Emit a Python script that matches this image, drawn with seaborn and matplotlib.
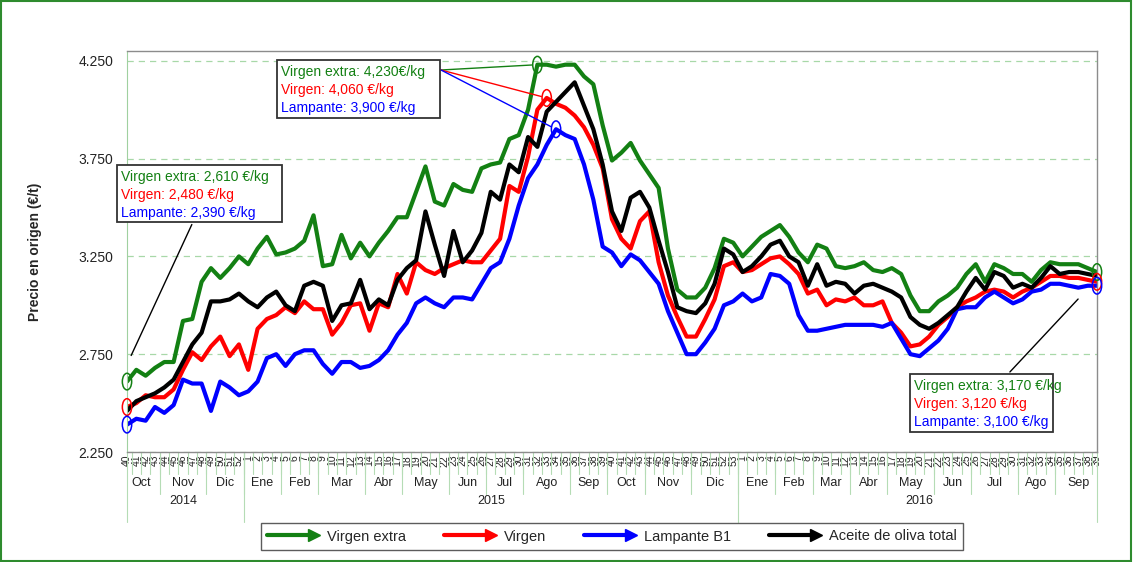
import numpy as np
import pandas as pd
import matplotlib
matplotlib.use("Agg")
import matplotlib.pyplot as plt
import matplotlib.transforms as mtransforms
import seaborn as sns
from matplotlib.patches import Ellipse, Rectangle
from matplotlib.lines import Line2D
from matplotlib.legend_handler import HandlerLine2D

# --- DATOS ---
semanas = list(range(40, 53)) + list(range(1, 54)) + list(range(1, 40))
meses = ["Oct", "Nov", "Dic",
         "Ene", "Feb", "Mar", "Abr", "May", "Jun", "Jul", "Ago", "Sep", "Oct", "Nov", "Dic",
         "Ene", "Feb", "Mar", "Abr", "May", "Jun", "Jul", "Ago", "Sep"]
semanas_por_mes = [4, 5, 4,
                   4, 4, 5, 4, 5, 4, 4, 5, 4, 4, 5, 5,
                   4, 4, 4, 4, 5, 4, 5, 4, 5]
anios = ["2014", "2015", "2016"]
semanas_por_anio = [13, 53, 39]

virgen_extra = [2610, 2670, 2640, 2680, 2710, 2710, 2920, 2930, 3120, 3190,
                3140, 3190, 3250, 3210, 3290, 3350, 3260, 3270, 3290, 3330,
                3460, 3200, 3210, 3360, 3240, 3320, 3250, 3320, 3380, 3450,
                3450, 3580, 3710, 3530, 3510, 3620, 3590, 3580, 3700, 3720,
                3730, 3850, 3870, 4000, 4230, 4230, 4220, 4230, 4230, 4170,
                4130, 3920, 3740, 3780, 3830, 3740, 3670, 3600, 3290, 3080,
                3040, 3040, 3090, 3190, 3340, 3320, 3250, 3300, 3350, 3380,
                3410, 3350, 3270, 3220, 3310, 3290, 3200, 3190, 3200, 3220,
                3180, 3170, 3190, 3160, 3050, 2970, 2970, 3020, 3050, 3090,
                3160, 3210, 3120, 3210, 3190, 3160, 3160, 3120, 3180, 3220,
                3210, 3210, 3210, 3190, 3170]
virgen = [2480, 2500, 2540, 2530, 2530, 2570, 2670, 2760, 2720, 2790,
          2840, 2740, 2800, 2670, 2880, 2930, 2950, 2990, 2960, 3020,
          2980, 2980, 2850, 2910, 3000, 3010, 2870, 3010, 2990, 3160,
          3060, 3220, 3180, 3160, 3190, 3210, 3230, 3220, 3220, 3280,
          3340, 3610, 3580, 3760, 4000, 4060, 4030, 4010, 3970, 3910,
          3820, 3700, 3440, 3340, 3290, 3430, 3480, 3220, 3050, 2940,
          2840, 2840, 2930, 3030, 3200, 3220, 3170, 3180, 3210, 3240,
          3250, 3210, 3160, 3060, 3080, 3000, 3030, 3020, 3040, 3000,
          3000, 3020, 2910, 2860, 2790, 2800, 2840, 2900, 2940, 2990,
          3020, 3040, 3070, 3080, 3070, 3040, 3070, 3090, 3120, 3150,
          3150, 3140, 3140, 3130, 3120]
lampante = [2390, 2420, 2410, 2480, 2450, 2490, 2620, 2600, 2600, 2460,
            2610, 2580, 2540, 2560, 2610, 2730, 2750, 2690, 2750, 2770,
            2770, 2700, 2650, 2710, 2710, 2680, 2690, 2720, 2770, 2850,
            2910, 3010, 3040, 3010, 2990, 3040, 3040, 3030, 3110, 3190,
            3220, 3340, 3510, 3650, 3720, 3820, 3900, 3870, 3850, 3720,
            3540, 3300, 3270, 3200, 3260, 3230, 3170, 3110, 2970, 2860,
            2750, 2750, 2810, 2880, 3000, 3020, 3060, 3020, 3040, 3160,
            3150, 3110, 2950, 2870, 2870, 2880, 2890, 2900, 2900, 2900,
            2900, 2890, 2910, 2830, 2750, 2740, 2780, 2820, 2880, 2980,
            2990, 2990, 3040, 3070, 3040, 3010, 3030, 3070, 3080, 3110,
            3110, 3100, 3090, 3100, 3100]
aceite_total = [2460, 2510, 2530, 2550, 2580, 2620, 2710, 2800, 2860, 3020,
                3020, 3030, 3060, 3020, 2990, 3040, 3070, 3000, 2970, 3100,
                3120, 3100, 2920, 3000, 3010, 3130, 2980, 3030, 3000, 3130,
                3190, 3230, 3480, 3310, 3150, 3380, 3220, 3280, 3370, 3580,
                3540, 3720, 3680, 3860, 3810, 3990, 4040, 4090, 4140, 4020,
                3900, 3720, 3480, 3380, 3550, 3580, 3500, 3330, 3170, 2990,
                2970, 2960, 3010, 3110, 3290, 3260, 3170, 3200, 3250, 3310,
                3330, 3250, 3220, 3100, 3210, 3100, 3120, 3110, 3060, 3100,
                3110, 3090, 3070, 3040, 2940, 2900, 2880, 2910, 2950, 2990,
                3070, 3140, 3080, 3170, 3150, 3090, 3110, 3090, 3140, 3200,
                3160, 3170, 3170, 3160, 3150]

series = ["Virgen extra", "Virgen", "Lampante B1", "Aceite de oliva total"]
colores = ["#138013", "#ff0000", "#0000ff", "#000000"]
nombres_cortos = ["Virgen extra", "Virgen", "Lampante"]
idx_pico = [44, 45, 46]

W, H = 1133, 562
n = len(semanas)

sns.set_style("white")
plt.rcParams['font.family'] = ['Liberation Sans', 'DejaVu Sans']

df = pd.DataFrame({
    "semana": np.tile(np.arange(n), 4),
    "precio": virgen_extra + virgen + lampante + aceite_total,
    "serie": np.repeat(series, n),
})

fig = plt.figure(figsize=(W / 100, H / 100), dpi=100)
ax = fig.add_axes([127 / W, 1 - 452 / H, 970 / W, 401 / H])

sns.lineplot(data=df, x="semana", y="precio", hue="serie", hue_order=series,
             palette=colores, linewidth=3, legend=False, sort=False, ax=ax)

ax.set_xlim(0, n - 1)
ax.set_ylim(2250, 4300)
yt = [2250, 2750, 3250, 3750, 4250]
ax.set_yticks(yt)
ax.set_yticklabels([f"{v:,}".replace(",", ".") for v in yt], fontsize=10, color="#222222")
ax.tick_params(axis="y", length=0, pad=10)
ax.yaxis.grid(True, linestyle=(0, (5, 4)), color="#a8d8a8", linewidth=0.9)
ax.xaxis.grid(False)
ax.set_xlabel("")
ax.set_ylabel("Precio en origen (€/t)", fontsize=10, fontweight="bold")
ax.yaxis.set_label_coords(-0.088, 0.5)

ax.set_xticks(range(n))
ax.set_xticklabels([str(s) for s in semanas], rotation=90, fontsize=7.5)
ax.tick_params(axis="x", length=0, pad=2)

for lado in ["top", "right", "bottom"]:
    ax.spines[lado].set_color("#8c8c8c")
    ax.spines[lado].set_linewidth(1)
ax.spines["left"].set_color("#a0d0a0")

# separadores del eje de categorias
sep = "#b5dcb5"
tr = mtransforms.blended_transform_factory(ax.transData, ax.transAxes)
for i in range(1, n):
    ax.plot([i - 0.5, i - 0.5], [0, -0.055], transform=tr, color=sep, lw=0.8, clip_on=False)
inicio = 0
for mes, k in zip(meses, semanas_por_mes):
    ax.text(inicio - 0.5 + k / 2, -0.078, mes, transform=tr, ha="center", va="center",
            fontsize=9, color="#222222")
    if inicio > 0:
        ax.plot([inicio - 0.5] * 2, [0, -0.105], transform=tr, color=sep, lw=0.8, clip_on=False)
    inicio += k
inicio = 0
for anio, k in zip(anios, semanas_por_anio):
    ax.text(inicio - 0.5 + k / 2, -0.123, anio, transform=tr, ha="center", va="center",
            fontsize=9, color="#222222")
    if inicio > 0:
        ax.plot([inicio - 0.5] * 2, [0, -0.175], transform=tr, color=sep, lw=0.8, clip_on=False)
    inicio += k
for xb in [0, n - 1]:
    ax.plot([xb, xb], [0, -0.175], transform=tr, color=sep, lw=0.8, clip_on=False)

# elipses de los valores destacados
datos = [virgen_extra, virgen, lampante]
for d, c, ip in zip(datos, colores, idx_pico):
    for j in [0, ip, n - 1]:
        ax.add_patch(Ellipse((j, d[j]), 1.0, 85, fill=False, edgecolor=c, lw=1.1,
                             clip_on=False, zorder=5))


def fmt(v):
    return f"{v / 1000:.3f}".replace(".", ",")


def caja(x0, y0, x1, y1, idx, sin_espacio=False):
    fig.add_artist(Rectangle((x0 / W, 1 - y1 / H), (x1 - x0) / W, (y1 - y0) / H,
                             transform=fig.transFigure, facecolor="white",
                             edgecolor="#333333", lw=1.3, zorder=10))
    for k, (d, c, nm) in enumerate(zip(datos, colores, nombres_cortos)):
        j = idx[k]
        sep_txt = "" if (sin_espacio and k == 0) else " "
        fig.text((x0 + 4) / W, 1 - (y0 + 12 + 18 * k) / H, f"{nm}: {fmt(d[j])}{sep_txt}€/kg",
                 color=c, fontsize=10, va="center", ha="left", zorder=11)


# caja inicial
caja(117, 165, 282, 222, [0, 0, 0])
ax.annotate("", xy=(130, H - 358), xycoords="figure pixels", xytext=(193, H - 222),
            textcoords="figure pixels", arrowprops=dict(arrowstyle="-", color="black", lw=1))

# caja de maximos
caja(277, 60, 440, 118, idx_pico, sin_espacio=True)
for d, c, ip in zip(datos, colores, idx_pico):
    ax.annotate("", xy=(ip, d[ip]), xycoords="data", xytext=(441, H - 70),
                textcoords="figure pixels",
                arrowprops=dict(arrowstyle="-", color=c, lw=1, shrinkA=0, shrinkB=4))

# caja final
caja(910, 374, 1053, 432, [n - 1, n - 1, n - 1])
ax.annotate("", xy=(1080, H - 297), xycoords="figure pixels", xytext=(1008, H - 374),
            textcoords="figure pixels", arrowprops=dict(arrowstyle="-", color="black", lw=1))


# leyenda con flecha al final de la linea
class FlechaHandler(HandlerLine2D):
    def create_artists(self, legend, orig_handle, xdescent, ydescent, width, height,
                       fontsize, trans):
        arts = super().create_artists(legend, orig_handle, xdescent, ydescent, width,
                                      height, fontsize, trans)
        for a in arts:
            if a.get_marker() not in (None, "", "None"):
                a.set_markevery([len(a.get_xdata()) - 1])
        return arts


handles = [Line2D([0], [0], color=c, lw=3, marker=">", markersize=8,
                  markeredgecolor=c) for c in colores]
leg = fig.legend(handles, series, loc="center", bbox_to_anchor=(612 / W, 1 - 536.5 / H),
                 ncol=4, frameon=True, fancybox=False, edgecolor="#333333", fontsize=10.5,
                 handlelength=3.2, handletextpad=0.9, columnspacing=2.6, borderpad=0.45,
                 numpoints=1, handler_map={Line2D: FlechaHandler()})
leg.get_frame().set_linewidth(1)

# borde verde exterior
fig.add_artist(Rectangle((0.001, 0.002), 0.997, 0.996, transform=fig.transFigure,
                         fill=False, edgecolor="#2e8b2e", lw=1.5))

plt.savefig("out.png", dpi=100)
